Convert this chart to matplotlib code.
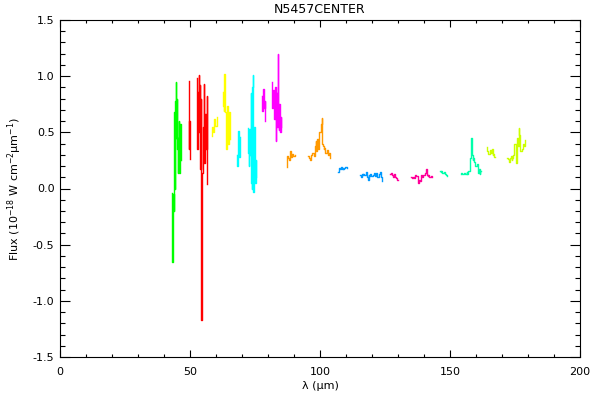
import matplotlib
matplotlib.use("Agg")
import matplotlib.pyplot as plt
import numpy as np
from matplotlib.ticker import MultipleLocator

# spectral pieces, wavelength (um) and flux (1e-18 W cm-2 um-1)
wl_green = [43.1, 43.2, 43.5, 43.6, 43.8, 43.9, 44.2, 44.3, 44.6, 44.7,
            45.0, 45.1, 45.4, 45.5, 45.8, 45.9, 46.2, 46.3, 46.5, 46.6]
fx_green = [-0.04, -0.65, -0.55, -0.05, -0.2, 0.68, 0.0, 0.78, 0.95, 0.45,
            0.8, 0.35, 0.14, 0.45, 0.6, 0.14, 0.2, 0.57, 0.5, 0.25]

wl_red_a = [49.6, 49.7, 49.9, 50.1]
fx_red_a = [0.96, 0.35, 0.6, 0.26]
wl_red_b = [52.7, 52.8, 53.1, 53.2, 53.5, 53.6, 53.8, 53.9, 54.2, 54.3, 54.6,
            54.7, 55.0, 55.1, 55.4, 55.5, 55.8, 55.9, 56.2, 56.3, 56.5, 56.6]
fx_red_b = [0.98, 0.35, 0.46, 0.86, 1.01, 0.5, 0.92, 0.17, 0.8, -1.17, -0.8,
            0.14, 0.14, 0.55, 0.93, 0.23, 0.3, 0.66, 0.62, 0.35, 0.82, 0.04]

wl_yellow_a = [58.5, 58.8, 59.2, 59.6, 60.0, 60.4]
fx_yellow_a = [0.47, 0.55, 0.5, 0.62, 0.56, 0.64]
wl_yellow_b = [62.7, 62.8, 63.1, 63.2, 63.5, 63.6, 63.8, 63.9,
               64.2, 64.3, 64.6, 64.7, 65.0, 65.1, 65.4, 65.5]
fx_yellow_b = [0.86, 0.73, 0.69, 1.02, 0.8, 0.68, 0.68, 0.35,
               0.37, 0.73, 0.63, 0.4, 0.45, 0.68, 0.6, 0.44]

wl_cyan_a = [68.1, 68.2, 68.5, 68.6, 68.9, 69.0, 69.3, 69.4]
fx_cyan_a = [0.3, 0.2, 0.25, 0.51, 0.48, 0.28, 0.3, 0.46]
wl_cyan_b = [72.3, 72.4, 72.7, 72.8, 73.1, 73.2, 73.5, 73.6, 73.8,
             73.9, 74.2, 74.3, 74.6, 74.7, 75.0, 75.1, 75.4, 75.5]
fx_cyan_b = [0.54, 0.32, 0.2, 0.53, 0.5, 0.3, 0.85, 0.05, 0.0,
             0.9, 1.01, -0.03, 0.1, 0.55, 0.3, 0.05, 0.25, 0.1]

wl_magenta_a = [77.7, 77.8, 78.1, 78.2, 78.5, 78.6, 78.8, 78.9]
fx_magenta_a = [0.82, 0.69, 0.69, 0.89, 0.8, 0.72, 0.78, 0.6]
wl_magenta_b = [81.5, 81.6, 81.9, 82.0, 82.3, 82.4, 82.7, 82.8, 83.1, 83.2,
                83.5, 83.6, 83.8, 83.9, 84.2, 84.3, 84.6, 84.7, 85.0, 85.1]
fx_magenta_b = [0.95, 0.72, 0.78, 0.88, 0.85, 0.62, 0.65, 0.9, 0.42, 0.8,
                0.85, 0.55, 1.2, 0.6, 0.52, 0.75, 0.7, 0.5, 0.64, 0.55]

wl_orange_a = [87.3, 87.4, 87.7, 88.1, 88.5, 88.8, 89.2, 89.6, 90.0, 90.4]
fx_orange_a = [0.19, 0.29, 0.27, 0.25, 0.3, 0.33, 0.28, 0.31, 0.29, 0.3]
wl_orange_b = [95.4, 95.8, 96.2, 96.5, 96.9, 97.3, 97.7, 98.1, 98.5, 98.8,
               99.2, 99.6, 99.6, 100.0, 100.4, 100.8, 100.8, 101.2, 101.5,
               101.9, 102.3, 102.7, 103.1, 103.5, 103.8]
fx_orange_b = [0.29, 0.27, 0.25, 0.27, 0.3, 0.32, 0.29, 0.38, 0.42, 0.33,
               0.44, 0.35, 0.48, 0.5, 0.57, 0.63, 0.4, 0.38, 0.35,
               0.36, 0.32, 0.34, 0.3, 0.32, 0.27]

wl_blue_a = [107.0, 107.4, 107.7, 108.1, 108.5, 108.8, 109.2, 109.6, 110.0, 110.4]
fx_blue_a = [0.15, 0.18, 0.17, 0.19, 0.17, 0.18, 0.17, 0.18, 0.19, 0.18]
wl_blue_b = [115.4, 115.8, 116.2, 116.5, 116.9, 117.3, 117.7, 118.1, 118.5,
             118.8, 119.2, 119.6, 120.0, 120.4, 120.8, 121.2, 121.5, 121.9,
             122.3, 122.7, 123.1, 123.5, 123.8]
fx_blue_b = [0.12, 0.1, 0.13, 0.12, 0.13, 0.12, 0.15, 0.1, 0.08,
             0.12, 0.11, 0.13, 0.11, 0.12, 0.14, 0.11, 0.12, 0.14,
             0.1, 0.13, 0.15, 0.1, 0.07]

wl_pink_a = [127.0, 127.3, 127.7, 128.1, 128.5, 128.8, 129.2, 129.6, 130.0]
fx_pink_a = [0.13, 0.14, 0.12, 0.1, 0.13, 0.11, 0.1, 0.09, 0.08]
wl_pink_b = [135.0, 135.4, 135.8, 136.2, 136.5, 136.9, 137.3, 137.7, 138.1,
             138.5, 138.8, 139.2, 139.6, 140.0, 140.4, 140.8, 141.2, 141.5,
             141.9, 142.3, 142.7, 143.1]
fx_pink_b = [0.1, 0.09, 0.1, 0.09, 0.11, 0.12, 0.11, 0.05, 0.08,
             0.07, 0.1, 0.12, 0.1, 0.12, 0.14, 0.17, 0.12, 0.11,
             0.12, 0.1, 0.11, 0.1]

wl_teal_a = [146.2, 146.5, 146.9, 147.3, 147.7, 148.1, 148.5, 148.8]
fx_teal_a = [0.16, 0.15, 0.16, 0.14, 0.15, 0.13, 0.12, 0.11]
wl_teal_b = [154.2, 154.6, 155.0, 155.4, 155.8, 156.2, 156.5, 156.9, 157.3,
             157.7, 158.1, 158.3, 158.5, 158.8, 159.2, 159.6, 160.0, 160.4,
             160.8, 161.2, 161.5, 161.9]
fx_teal_b = [0.13, 0.14, 0.13, 0.14, 0.13, 0.13, 0.15, 0.13, 0.16,
             0.27, 0.4, 0.45, 0.3, 0.25, 0.27, 0.24, 0.2, 0.22,
             0.14, 0.17, 0.13, 0.16]

wl_lime_a = [164.2, 164.6, 165.0, 165.4, 165.8, 166.2, 166.5, 166.9, 167.3]
fx_lime_a = [0.37, 0.33, 0.31, 0.34, 0.32, 0.35, 0.3, 0.31, 0.28]
wl_lime_b = [172.0, 172.3, 172.7, 173.1, 173.5, 173.8, 174.2, 174.6, 175.0,
             175.4, 175.8, 176.2, 176.5, 176.9, 177.3, 177.7, 178.1, 178.5, 178.8]
fx_lime_b = [0.27, 0.26, 0.24, 0.27, 0.29, 0.25, 0.27, 0.3, 0.4,
             0.23, 0.45, 0.38, 0.54, 0.48, 0.33, 0.35, 0.4, 0.38, 0.43]

pieces = [
    (wl_green, fx_green, "#00ff00"),
    (wl_red_a, fx_red_a, "#ff0000"),
    (wl_red_b, fx_red_b, "#ff0000"),
    (wl_yellow_a, fx_yellow_a, "#ffff00"),
    (wl_yellow_b, fx_yellow_b, "#ffff00"),
    (wl_cyan_a, fx_cyan_a, "#00ffff"),
    (wl_cyan_b, fx_cyan_b, "#00ffff"),
    (wl_magenta_a, fx_magenta_a, "#ff00ff"),
    (wl_magenta_b, fx_magenta_b, "#ff00ff"),
    (wl_orange_a, fx_orange_a, "#ff9900"),
    (wl_orange_b, fx_orange_b, "#ff9900"),
    (wl_blue_a, fx_blue_a, "#0099ff"),
    (wl_blue_b, fx_blue_b, "#0099ff"),
    (wl_pink_a, fx_pink_a, "#ff0099"),
    (wl_pink_b, fx_pink_b, "#ff0099"),
    (wl_teal_a, fx_teal_a, "#00ffaa"),
    (wl_teal_b, fx_teal_b, "#00ffaa"),
    (wl_lime_a, fx_lime_a, "#ccff00"),
    (wl_lime_b, fx_lime_b, "#ccff00"),
]

fig = plt.figure(figsize=(6, 4), dpi=100)
ax = fig.add_axes([0.1, 0.1075, 0.8667, 0.8425])

for wl, fx, col in pieces:
    ax.plot(wl, fx, color=col, lw=1.0, drawstyle="steps-mid")

ax.set_xlim(0, 200)
ax.set_ylim(-1.5, 1.5)
ax.xaxis.set_major_locator(MultipleLocator(50))
ax.xaxis.set_minor_locator(MultipleLocator(10))
ax.yaxis.set_major_locator(MultipleLocator(0.5))
ax.yaxis.set_minor_locator(MultipleLocator(0.1))
ax.yaxis.set_major_formatter(plt.FuncFormatter(lambda v, p: "%.1f" % v))

ax.tick_params(axis="x", which="major", direction="in", length=5, width=0.8,
               top=True, labelsize=8, pad=7)
ax.tick_params(axis="x", which="minor", direction="in", length=2.5, width=0.8, top=True)
ax.tick_params(axis="y", which="major", direction="in", length=7.5, width=0.8,
               right=True, labelsize=8, pad=4)
ax.tick_params(axis="y", which="minor", direction="in", length=3.7, width=0.8, right=True)
for s in ax.spines.values():
    s.set_linewidth(0.8)

ax.set_title("N5457CENTER", fontsize=9, pad=5)
ax.set_xlabel("λ (μm)", fontsize=8, labelpad=3)
ax.set_ylabel("Flux (10$^{-18}$ W cm$^{-2}$μm$^{-1}$)", fontsize=8, labelpad=6)

fig.savefig("out.png", dpi=100)
